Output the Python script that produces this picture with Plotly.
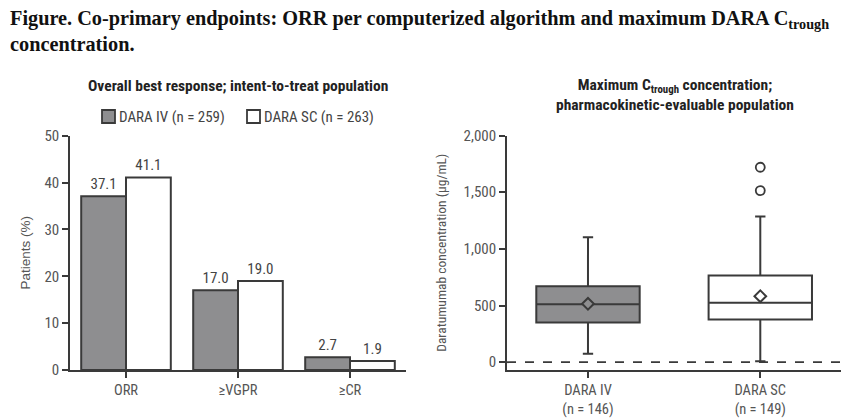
import plotly.graph_objects as go

# ---- data ----
categories = ["ORR", "≥VGPR", "≥CR"]
iv_pct = [37.1, 17.0, 2.7]
sc_pct = [41.1, 19.0, 1.9]
iv_label = "DARA IV (n = 259)"
sc_label = "DARA SC (n = 263)"

box_groups = ["DARA IV<br>(n = 146)", "DARA SC<br>(n = 149)"]
box_q1 = [350, 376]
box_median = [512, 524]
box_q3 = [670, 765]
box_lower = [74, 8]
box_upper = [1102, 1285]
box_mean = [515, 582]
sc_outliers = [1514, 1720]

left_yticks = [0, 10, 20, 30, 40, 50]
right_yticks = [0, 500, 1000, 1500, 2000]

# the page body adds an 8px offset; the figure fills the remaining window
OFF = 8
W, H = 849 - OFF, 418 - OFF
def px(x):
    return (x - OFF) / W
def py(y):
    return 1 - (y - OFF) / H

FONT = "Liberation Sans Narrow, Roboto Condensed, Arial Narrow, Liberation Sans, sans-serif"
WIDE = "Liberation Sans, Arial, sans-serif"
DARK = "#3a3a3a"
GRAY = "#8e8e90"
TXT = "#555555"

fig = go.Figure()

xi = list(range(len(categories)))
fig.add_trace(go.Bar(x=xi, y=iv_pct, name=iv_label, marker=dict(color=GRAY, line=dict(color=DARK, width=2)),
                     text=[f"{v:.1f}" for v in iv_pct], textposition="outside",
                     textfont=dict(family=FONT, size=15, color="#444"), cliponaxis=False,
                     xaxis="x", yaxis="y", showlegend=False))
fig.add_trace(go.Bar(x=xi, y=sc_pct, name=sc_label, marker=dict(color="white", line=dict(color=DARK, width=2)),
                     text=[f"{v:.1f}" for v in sc_pct], textposition="outside",
                     textfont=dict(family=FONT, size=15, color="#444"), cliponaxis=False,
                     xaxis="x", yaxis="y", showlegend=False))

# box plots
fills = [GRAY, "white"]
for i in range(2):
    fig.add_trace(go.Box(x=[i], q1=[box_q1[i]], median=[box_median[i]], q3=[box_q3[i]],
                         lowerfence=[box_lower[i]], upperfence=[box_upper[i]],
                         width=0.6, whiskerwidth=0.1, fillcolor=fills[i],
                         line=dict(color=DARK, width=2), showlegend=False,
                         xaxis="x2", yaxis="y2", hoverinfo="skip"))
    fig.add_trace(go.Scatter(x=[i], y=[box_mean[i]], mode="markers", showlegend=False,
                             marker=dict(symbol="diamond", size=9, color=fills[i], line=dict(color=DARK, width=2)),
                             xaxis="x2", yaxis="y2"))
fig.add_trace(go.Scatter(x=[1] * len(sc_outliers), y=sc_outliers, mode="markers", showlegend=False,
                         marker=dict(symbol="circle-open", size=9, color=DARK, line=dict(width=1.8)),
                         xaxis="x2", yaxis="y2"))

axis_common = dict(showline=True, linecolor=DARK, linewidth=1.6, ticks="outside", tickcolor=DARK,
                   tickwidth=1.6, ticklen=6, showgrid=False, zeroline=False, automargin=False,
                   tickfont=dict(family=FONT, size=15, color=TXT))

fig.update_layout(
    width=W, height=H, margin=dict(l=0, r=0, t=0, b=0, autoexpand=False),
    paper_bgcolor="white", plot_bgcolor="white",
    barmode="group", bargap=0.2, bargroupgap=0,
    showlegend=False,
    xaxis=dict(axis_common, domain=[px(70), px(406)], range=[-0.5, 2.5],
               tickmode="array", tickvals=xi, ticktext=categories, tickson="boundaries",
               tickfont=dict(family=FONT, size=14.5, color=TXT)),
    yaxis=dict(axis_common, domain=[py(370), py(135.7)], range=[0, 50],
               tickmode="array", tickvals=left_yticks, anchor="x",
               title=dict(text="Patients (%)", font=dict(family=WIDE, size=13.5, color=TXT), standoff=11)),
    xaxis2=dict(axis_common, domain=[px(507), px(843)], range=[-0.47, 1.48], anchor="y2",
                tickmode="array", tickvals=[0, 1], ticktext=box_groups,
                tickfont=dict(family=FONT, size=14.5, color=TXT)),
    yaxis2=dict(axis_common, domain=[py(370), py(135.5)], range=[-69, 2000], anchor="x2",
                tickmode="array", tickvals=right_yticks, tickformat=",d",
                title=dict(text="Daratumumab concentration (µg/mL)", font=dict(family=FONT, size=13.5, color=TXT), standoff=14)),
)

fig.add_shape(type="line", xref="x2 domain", yref="y2", x0=0, x1=1, y0=0, y1=0,
              line=dict(color=DARK, width=1.8, dash="dash"))

# legend (manual, to match swatch/text spacing)
legend_items = [(iv_label, GRAY, 102), (sc_label, "white", 247)]
for label, color, x0 in legend_items:
    fig.add_shape(type="rect", xref="paper", yref="paper", x0=px(x0), x1=px(x0 + 13),
                  y0=py(123), y1=py(110), fillcolor=color, line=dict(color=DARK, width=1.8))
    fig.add_annotation(xref="paper", yref="paper", x=px(x0 + 15), y=py(116.5), xanchor="left",
                       yanchor="middle", showarrow=False, text=label,
                       font=dict(family=FONT, size=15, color="#444"))

fig.add_annotation(xref="paper", yref="paper", x=px(8), y=py(5), xanchor="left", yanchor="top",
                   align="left", showarrow=False,
                   text="<b>Figure. Co-primary endpoints: ORR per computerized algorithm and maximum DARA C<sub>trough</sub></b><br><b>concentration.</b>",
                   font=dict(family="Liberation Serif, Times New Roman, serif", size=20.3, color="#111"))
fig.add_annotation(xref="paper", yref="paper", x=px(238), y=py(86), xanchor="center", yanchor="middle",
                   showarrow=False, text="<b>Overall best response; intent-to-treat population</b>",
                   font=dict(family=FONT, size=15.5, color="#222"))
fig.add_annotation(xref="paper", yref="paper", x=px(675), y=py(95), xanchor="center", yanchor="middle",
                   showarrow=False, align="center",
                   text="<b>Maximum C<sub>trough</sub> concentration;</b><br><b>pharmacokinetic-evaluable population</b>",
                   font=dict(family=FONT, size=15.5, color="#222"))

fig.write_html("out.html")
